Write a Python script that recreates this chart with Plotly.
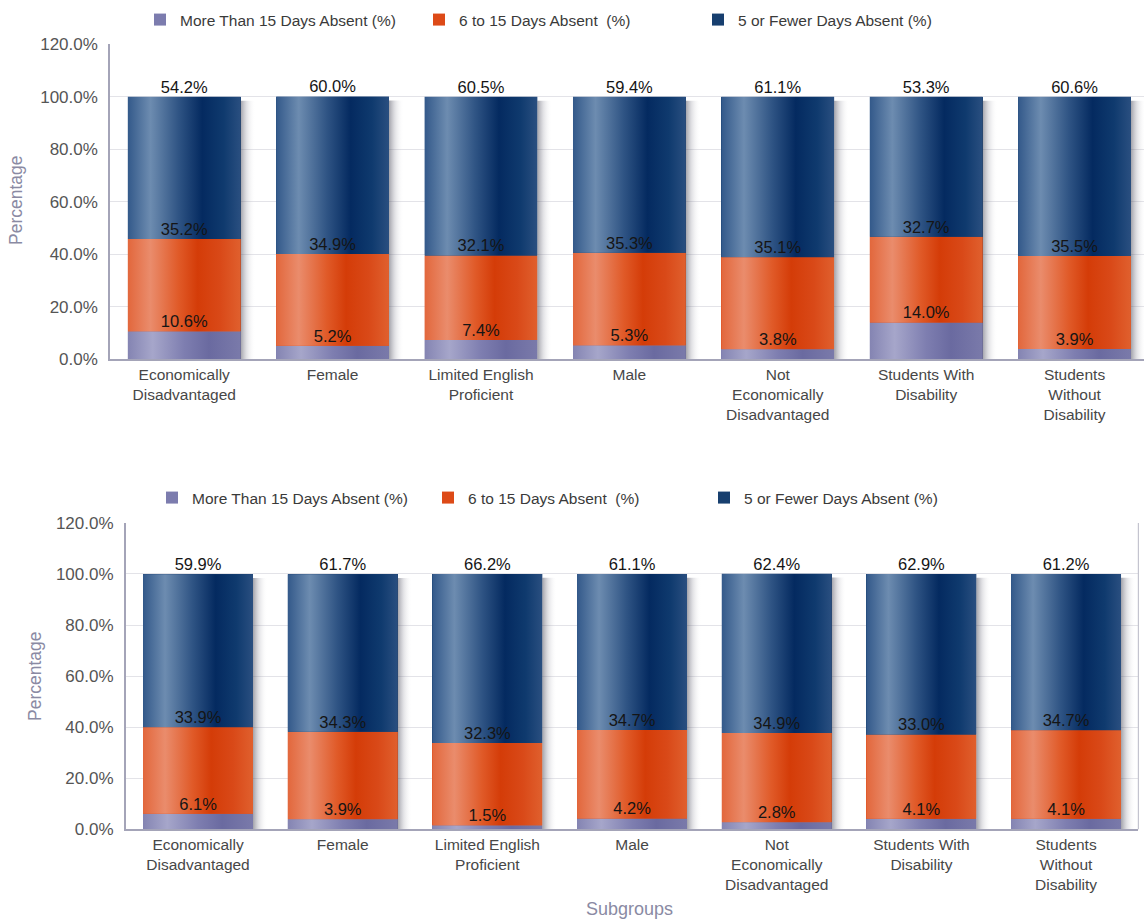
import plotly.graph_objects as go

# ---------------- data ----------------
categories = ["Economically<br>Disadvantaged", "Female", "Limited English<br>Proficient", "Male",
              "Not<br>Economically<br>Disadvantaged", "Students With<br>Disability",
              "Students<br>Without<br>Disability"]
series_names = ["More Than 15 Days Absent (%)", "6 to 15 Days Absent  (%)", "5 or Fewer Days Absent (%)"]

top_over15 = [10.6, 5.2, 7.4, 5.3, 3.8, 14.0, 3.9]
top_6to15 = [35.2, 34.9, 32.1, 35.3, 35.1, 32.7, 35.5]
top_5orfewer = [54.2, 60.0, 60.5, 59.4, 61.1, 53.3, 60.6]

bot_over15 = [6.1, 3.9, 1.5, 4.2, 2.8, 4.1, 4.1]
bot_6to15 = [33.9, 34.3, 32.3, 34.7, 34.9, 33.0, 34.7]
bot_5orfewer = [59.9, 61.7, 66.2, 61.1, 62.4, 62.9, 61.2]

y_ticks = [0, 20, 40, 60, 80, 100, 120]
y_ticktext = [f"{v:.1f}%" for v in y_ticks]

# ---------------- styles ----------------
FONT = "Liberation Sans, Arial, sans-serif"
base_colors = ["#7c7cae", "#dd4a17", "#173f6f"]
grad_scales = [
    [[0, "#8484b2"], [0.22, "#a6a6ca"], [0.5, "#7e7eb0"], [0.72, "#6a6aa0"], [1, "#7a7aaa"]],
    [[0, "#e2673c"], [0.2, "#ea8c6c"], [0.45, "#e05a28"], [0.62, "#d43c08"], [0.82, "#d94918"], [1, "#e0602e"]],
    [[0, "#33598a"], [0.2, "#6d8cb0"], [0.45, "#2f5484"], [0.66, "#042a60"], [0.85, "#0f3a6e"], [1, "#2a4f80"]],
]
BAR_W = 0.76
SHADOW_W = 0.1
shadow_scale = [[0, "rgba(70,70,85,0.50)"], [0.4, "rgba(120,120,135,0.22)"], [1, "rgba(255,255,255,0)"]]

fig = go.Figure()


def add_chart(series, xa, ya, legend_name):
    x_idx = list(range(len(categories)))
    # base bars (data + legend)
    for k, vals in enumerate(series):
        fig.add_trace(go.Bar(
            x=x_idx, y=vals, name=series_names[k], width=BAR_W,
            marker=dict(color=base_colors[k], line=dict(width=0)),
            xaxis=xa, yaxis=ya, legend=legend_name, showlegend=True,
            hovertemplate="%{y:.1f}%<extra>" + series_names[k] + "</extra>",
        ))
    # gradient overlays and shadows
    for i in x_idx:
        cum = 0.0
        tops = []
        for k, vals in enumerate(series):
            y0, y1 = cum, cum + vals[i]
            cum = y1
            tops.append(y1)
            xl, xr = i - BAR_W / 2, i + BAR_W / 2
            fig.add_trace(go.Scatter(
                x=[xl, xr, xr, xl, xl], y=[y0, y0, y1, y1, y0],
                mode="lines", line=dict(width=0), fill="toself",
                fillgradient=dict(type="horizontal", colorscale=grad_scales[k]),
                xaxis=xa, yaxis=ya, showlegend=False, hoverinfo="skip",
            ))
        xs0, xs1 = i + BAR_W / 2, i + BAR_W / 2 + SHADOW_W
        top = tops[-1] - 1.5
        fig.add_trace(go.Scatter(
            x=[xs0, xs1, xs1, xs0, xs0], y=[0, 0, top, top, 0],
            mode="lines", line=dict(width=0), fill="toself",
            fillgradient=dict(type="horizontal", colorscale=shadow_scale),
            xaxis=xa, yaxis=ya, showlegend=False, hoverinfo="skip",
        ))
    # value labels at top of each segment
    cum = [0.0] * len(categories)
    for k, vals in enumerate(series):
        cum = [c + v for c, v in zip(cum, vals)]
        fig.add_trace(go.Scatter(
            x=x_idx, y=cum, mode="text",
            text=[f"{v:.1f}%" for v in vals], textposition="top center",
            textfont=dict(family=FONT, size=16.5, color="#151515"),
            xaxis=xa, yaxis=ya, showlegend=False, hoverinfo="skip", cliponaxis=False,
        ))


add_chart([top_over15, top_6to15, top_5orfewer], "x", "y", "legend")
add_chart([bot_over15, bot_6to15, bot_5orfewer], "x2", "y2", "legend2")

W, H = 1144, 920
top_dom_y = [1 - 359.3 / H, 1 - 44.3 / H]
bot_dom_y = [1 - 829.3 / H, 1 - 522.9 / H]
top_dom_x = [110 / W, 1.0]
bot_dom_x = [125.7 / W, 1138.4 / W]

xcommon = dict(
    tickvals=list(range(len(categories))), ticktext=categories,
    showline=True, linecolor="#a4a4b8", linewidth=1.5, showgrid=False, zeroline=False,
    tickfont=dict(family=FONT, size=15.5, color="#474747"), ticks="",
)
ycommon = dict(
    range=[0, 120], tickvals=y_ticks, ticktext=y_ticktext,
    showline=True, linecolor="#a4a4b8", linewidth=1.5,
    showgrid=True, gridcolor="#e3e3e8", gridwidth=1, zeroline=False,
    tickfont=dict(family=FONT, size=17, color="#555555"), ticks="", ticklabelstandoff=7,
)

legcommon = dict(
    orientation="h", entrywidthmode="pixels", traceorder="normal",
    font=dict(family=FONT, size=15.5, color="#3a3a3a"), bgcolor="rgba(0,0,0,0)",
    yanchor="middle", xanchor="left", itemclick=False, itemdoubleclick=False,
)

title_font = dict(family=FONT, size=17.5, color="#8a8aa3")

fig.update_layout(
    width=W, height=H,
    margin=dict(l=0, r=0, t=0, b=0, autoexpand=False),
    paper_bgcolor="white", plot_bgcolor="white",
    barmode="stack",
    showlegend=True,
    font=dict(family=FONT),
    xaxis=dict(domain=top_dom_x, anchor="y", range=[-0.5, 6.468], **xcommon),
    yaxis=dict(domain=top_dom_y, anchor="x", **ycommon),
    xaxis2=dict(domain=bot_dom_x, anchor="y2", range=[-0.5, 6.5], **xcommon),
    yaxis2=dict(domain=bot_dom_y, anchor="x2", **ycommon),
    legend=dict(x=140 / W, y=1 - 20 / H, entrywidth=234, **legcommon),
    legend2=dict(x=152 / W, y=1 - 498 / H, entrywidth=231, **legcommon),
    annotations=[
        dict(text="Percentage", x=16 / W, y=1 - 200 / H, xref="paper", yref="paper",
             xanchor="center", yanchor="middle",
             textangle=-90, showarrow=False, font=title_font),
        dict(text="Percentage", x=35 / W, y=1 - 676 / H, xref="paper", yref="paper",
             xanchor="center", yanchor="middle",
             textangle=-90, showarrow=False, font=title_font),
        dict(text="Subgroups", x=629 / W, y=1 - 909 / H, xref="paper", yref="paper",
             xanchor="center", yanchor="middle",
             showarrow=False, font=dict(family=FONT, size=18, color="#8a8aa3")),
    ],
    shapes=[
        dict(type="line", xref="paper", yref="paper", x0=bot_dom_x[1], x1=bot_dom_x[1],
             y0=bot_dom_y[0], y1=bot_dom_y[1], line=dict(color="#c4c4cf", width=1.2)),
    ],
)

fig.write_html("out.html")
